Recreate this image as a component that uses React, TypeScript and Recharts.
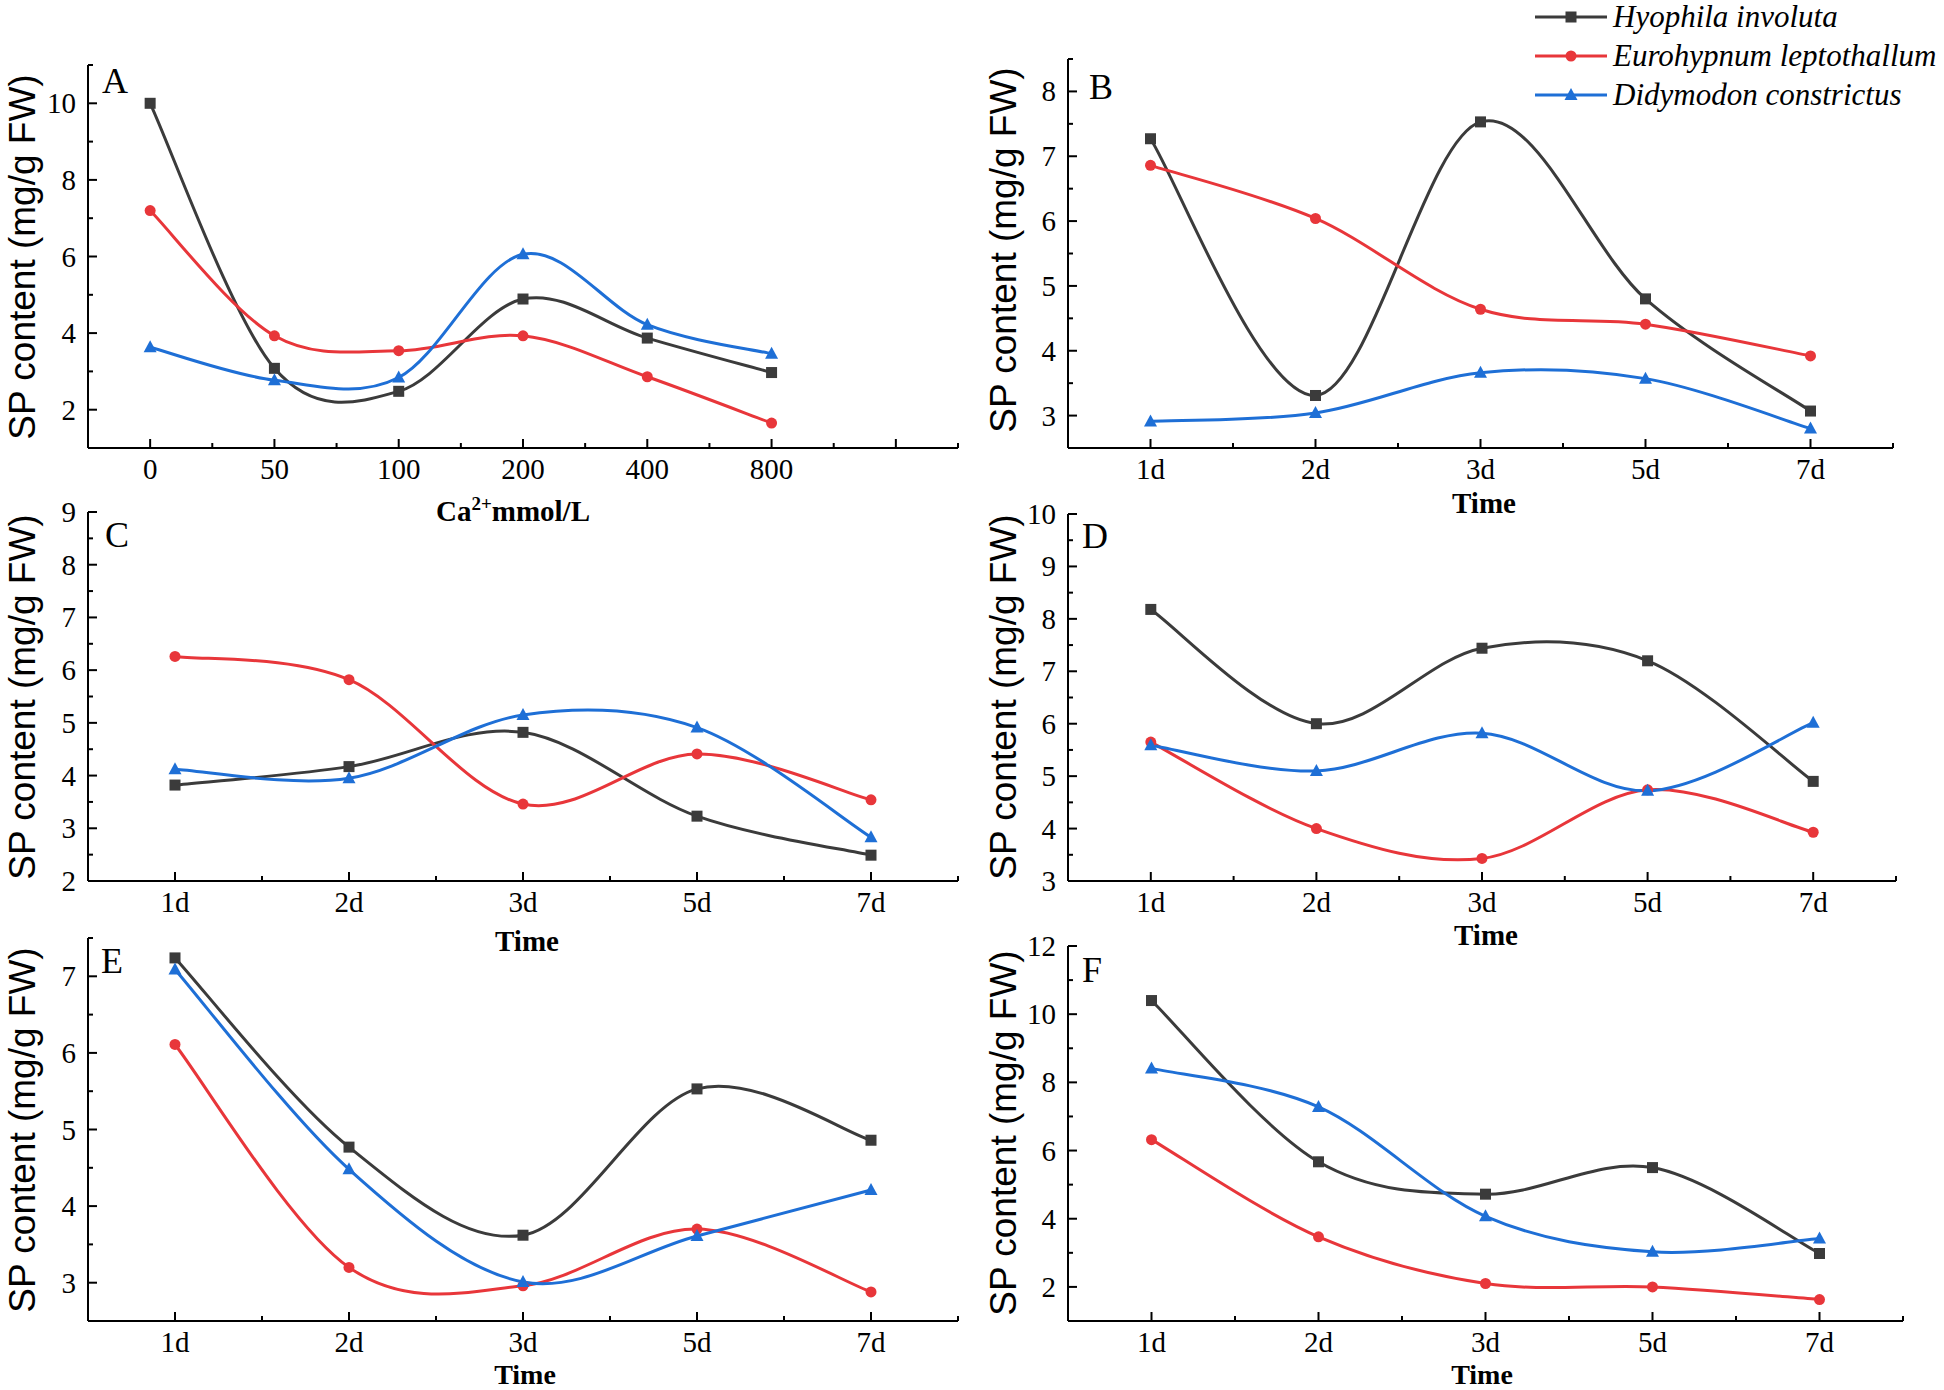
import React from 'react';
import { LineChart, Line, XAxis, YAxis } from 'recharts';

// categories
const caLevels = ['0', '50', '100', '200', '400', '800'];
const days = ['1d', '2d', '3d', '5d', '7d'];
const speciesNames = ['Hyophila involuta', 'Eurohypnum leptothallum', 'Didymodon constrictus'];

// A: Ca2+ concentration
const aHyophila = [10.0, 3.08, 2.48, 4.89, 3.87, 2.97];
const aEurohypnum = [7.2, 3.93, 3.54, 3.93, 2.86, 1.65];
const aDidymodon = [3.63, 2.77, 2.84, 6.06, 4.22, 3.46];
// B
const bHyophila = [7.27, 3.31, 7.53, 4.8, 3.07];
const bEurohypnum = [6.86, 6.04, 4.64, 4.41, 3.92];
const bDidymodon = [2.91, 3.04, 3.66, 3.57, 2.8];
// C
const cHyophila = [3.82, 4.17, 4.82, 3.23, 2.49];
const cEurohypnum = [6.26, 5.82, 3.46, 4.41, 3.54];
const cDidymodon = [4.12, 3.95, 5.15, 4.91, 2.83];
// D
const dHyophila = [8.18, 6.0, 7.44, 7.2, 4.9];
const dEurohypnum = [5.65, 4.0, 3.43, 4.74, 3.93];
const dDidymodon = [5.59, 5.1, 5.82, 4.72, 6.02];
// E
const eHyophila = [7.24, 4.77, 3.62, 5.53, 4.86];
const eEurohypnum = [6.11, 3.2, 2.96, 3.7, 2.88];
const eDidymodon = [7.09, 4.48, 3.01, 3.61, 4.21];
// F
const fHyophila = [10.4, 5.67, 4.72, 5.5, 2.98];
const fEurohypnum = [6.32, 3.47, 2.1, 2.0, 1.63];
const fDidymodon = [8.41, 7.28, 4.07, 3.03, 3.42];

const BLACK = '#3b3b3b';
const RED = '#e8363a';
const BLUE = '#1e6fd6';
const SERIF = "'Liberation Serif', 'Times New Roman', serif";
const SANS = "'Liberation Sans', Arial, sans-serif";

const steps = (min: number, max: number, step: number) => {
  const out: number[] = [];
  for (let v = min; v <= max + 1e-9; v += step) out.push(Math.round(v * 100) / 100);
  return out;
};

// Catmull-Rom style spline (closer to Origin's smoothing than d3 natural)
function splineCurve(context: any) {
  let xs: number[] = [];
  let ys: number[] = [];
  return {
    areaStart() {},
    areaEnd() {},
    lineStart() {
      xs = [];
      ys = [];
    },
    lineEnd() {
      const n = xs.length;
      if (!n) return;
      context.moveTo(xs[0], ys[0]);
      for (let i = 0; i < n - 1; i++) {
        const i0 = Math.max(i - 1, 0);
        const i3 = Math.min(i + 2, n - 1);
        context.bezierCurveTo(
          xs[i] + (xs[i + 1] - xs[i0]) / 6,
          ys[i] + (ys[i + 1] - ys[i0]) / 6,
          xs[i + 1] - (xs[i3] - xs[i]) / 6,
          ys[i + 1] - (ys[i3] - ys[i]) / 6,
          xs[i + 1],
          ys[i + 1],
        );
      }
    },
    point(x: number, y: number) {
      xs.push(+x);
      ys.push(+y);
    },
  };
}

const Square = (p: any) =>
  p.cx == null ? null : <rect key={p.index} x={p.cx - 5.5} y={p.cy - 5.5} width={11} height={11} fill={BLACK} />;
const Dot = (p: any) =>
  p.cx == null ? null : <circle key={p.index} cx={p.cx} cy={p.cy} r={5.5} fill={RED} />;
const Tri = (p: any) =>
  p.cx == null ? null : (
    <polygon
      key={p.index}
      points={`${p.cx},${p.cy - 7} ${p.cx - 6.5},${p.cy + 5} ${p.cx + 6.5},${p.cy + 5}`}
      fill={BLUE}
    />
  );

interface PanelProps {
  plot: [number, number, number, number]; // left, top, right, bottom
  cats: string[];
  h: number[];
  e: number[];
  d: number[];
  yDomain: [number, number];
  yMinor: number;
  yMajor: number;
  xMax: number;
}

function Panel({ plot, cats, h, e, d, yDomain, yMinor, yMajor, xMax }: PanelProps) {
  const [pl, pt, pr, pb] = plot;
  const padL = 80, padT = 20, padR = 20, padB = 60;
  const rows = cats.map((c, i) => ({ x: i, h: h[i], e: e[i], d: d[i] }));
  const xTicks = steps(-0.5, xMax, 0.5);
  const yTicks = steps(yDomain[0], yDomain[1], yMinor);

  const XTick = (p: any) => {
    const v = p.payload.value;
    const idx = Math.round(v);
    const major = Math.abs(v - idx) < 1e-6;
    return (
      <g>
        <line x1={p.x} x2={p.x} y1={p.y} y2={p.y - (major ? 9 : 5)} stroke="#000" strokeWidth={2} />
        {major && idx >= 0 && idx < cats.length && (
          <text x={p.x} y={p.y + 31} textAnchor="middle" fontFamily={SERIF} fontSize={29} fill="#000">
            {cats[idx]}
          </text>
        )}
      </g>
    );
  };

  const YTick = (p: any) => {
    const v = p.payload.value;
    const r = v / yMajor;
    const major = Math.abs(r - Math.round(r)) < 1e-6;
    const atEdge = v === yDomain[0];
    return (
      <g>
        {!atEdge && (
          <line x1={p.x} x2={p.x + (major ? 9 : 5)} y1={p.y} y2={p.y} stroke="#000" strokeWidth={2} />
        )}
        {major && (
          <text x={p.x - 12} y={p.y + 10} textAnchor="end" fontFamily={SERIF} fontSize={29} fill="#000">
            {v}
          </text>
        )}
      </g>
    );
  };

  return (
    <div style={{ position: 'absolute', left: pl - padL, top: pt - padT }}>
      <LineChart
        width={pr - pl + padL + padR}
        height={pb - pt + padT + padB}
        data={rows}
        margin={{ top: padT, right: padR, left: 0, bottom: 0 }}
      >
        <XAxis
          dataKey="x"
          type="number"
          domain={[-0.5, xMax]}
          ticks={xTicks}
          interval={0}
          height={padB}
          tickSize={0}
          tickMargin={0}
          tickLine={false}
          tick={XTick}
          axisLine={{ stroke: '#000', strokeWidth: 2 }}
        />
        <YAxis
          type="number"
          domain={yDomain}
          ticks={yTicks}
          interval={0}
          width={padL}
          tickSize={0}
          tickMargin={0}
          tickLine={false}
          tick={YTick}
          axisLine={{ stroke: '#000', strokeWidth: 2 }}
        />
        <Line type={splineCurve as any} dataKey="h" stroke={BLACK} strokeWidth={3} dot={Square} activeDot={false} isAnimationActive={false} />
        <Line type={splineCurve as any} dataKey="e" stroke={RED} strokeWidth={3} dot={Dot} activeDot={false} isAnimationActive={false} />
        <Line type={splineCurve as any} dataKey="d" stroke={BLUE} strokeWidth={3} dot={Tri} activeDot={false} isAnimationActive={false} />
      </LineChart>
    </div>
  );
}

const yTitle = 'SP content (mg/g FW)';

export default function App() {
  return (
    <div style={{ position: 'relative', width: 1944, height: 1390, background: '#fff', overflow: 'hidden' }}>
      <style>{'body{margin:0;background:#fff}'}</style>
      <Panel plot={[88, 65, 958, 448]} cats={caLevels} h={aHyophila} e={aEurohypnum} d={aDidymodon}
        yDomain={[1, 11]} yMinor={1} yMajor={2} xMax={6.5} />
      <Panel plot={[1068, 59, 1893, 448]} cats={days} h={bHyophila} e={bEurohypnum} d={bDidymodon}
        yDomain={[2.5, 8.5]} yMinor={0.5} yMajor={1} xMax={4.5} />
      <Panel plot={[88, 512, 958, 881]} cats={days} h={cHyophila} e={cEurohypnum} d={cDidymodon}
        yDomain={[2, 9]} yMinor={0.5} yMajor={1} xMax={4.5} />
      <Panel plot={[1068, 514, 1896, 881]} cats={days} h={dHyophila} e={dEurohypnum} d={dDidymodon}
        yDomain={[3, 10]} yMinor={0.5} yMajor={1} xMax={4.5} />
      <Panel plot={[88, 938, 958, 1321]} cats={days} h={eHyophila} e={eEurohypnum} d={eDidymodon}
        yDomain={[2.5, 7.5]} yMinor={0.5} yMajor={1} xMax={4.5} />
      <Panel plot={[1068, 946, 1903, 1321]} cats={days} h={fHyophila} e={fEurohypnum} d={fDidymodon}
        yDomain={[1, 12]} yMinor={1} yMajor={2} xMax={4.5} />

      <svg width={1944} height={1390} style={{ position: 'absolute', left: 0, top: 0, pointerEvents: 'none' }}>
        {/* y titles */}
        {[
          [22, 257], [1003, 250], [22, 697], [1003, 697], [22, 1130], [1003, 1133],
        ].map(([x, y], i) => (
          <text key={i} x={x} y={y} transform={`rotate(-90 ${x} ${y})`} textAnchor="middle"
            dominantBaseline="central" fontFamily={SANS} fontSize={37} fill="#000">
            {yTitle}
          </text>
        ))}
        {/* x titles */}
        <text x={513} y={521} textAnchor="middle" fontFamily={SERIF} fontWeight="bold" fontSize={29} fill="#000">
          <tspan>Ca</tspan>
          <tspan dy={-11} fontSize={19}>2+</tspan>
          <tspan dy={11}>mmol/L</tspan>
        </text>
        {[
          [1484, 513, 29], [527, 951, 29], [1486, 945, 29], [525, 1384, 28], [1482, 1384, 28],
        ].map(([x, y, fs], i) => (
          <text key={i} x={x} y={y} textAnchor="middle" fontFamily={SERIF} fontWeight="bold" fontSize={fs} fill="#000">
            Time
          </text>
        ))}
        {/* panel letters */}
        {[
          ['A', 102, 93], ['B', 1089, 99], ['C', 105, 547], ['D', 1082, 548], ['E', 101, 973], ['F', 1082, 982],
        ].map(([t, x, y]) => (
          <text key={t as string} x={x as number} y={y as number} fontFamily={SERIF} fontSize={36} fill="#000">
            {t}
          </text>
        ))}
        {/* legend */}
        {speciesNames.map((name, i) => {
          const y = 17 + i * 39;
          const c = [BLACK, RED, BLUE][i];
          return (
            <g key={name}>
              <line x1={1535} x2={1607} y1={y} y2={y} stroke={c} strokeWidth={3} />
              {i === 0 && <rect x={1565.5} y={y - 5.5} width={11} height={11} fill={c} />}
              {i === 1 && <circle cx={1571} cy={y} r={5.5} fill={c} />}
              {i === 2 && <polygon points={`1571,${y - 7} 1564.5,${y + 5} 1577.5,${y + 5}`} fill={c} />}
              <text x={1613} y={y + 10} fontFamily={SERIF} fontStyle="italic" fontSize={31} fill="#000">
                {name}
              </text>
            </g>
          );
        })}
      </svg>
    </div>
  );
}
